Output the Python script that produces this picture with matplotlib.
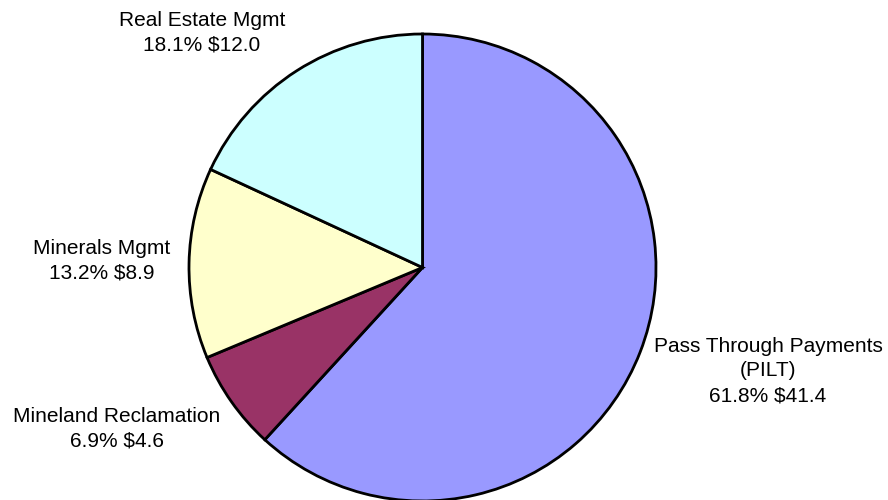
import matplotlib.pyplot as plt

# slice data, clockwise from 12 o'clock
categories = ["Pass Through Payments\n(PILT)", "Mineland Reclamation",
              "Minerals Mgmt", "Real Estate Mgmt"]
percents = [61.8, 6.9, 13.2, 18.1]
dollars = [41.4, 4.6, 8.9, 12.0]
colors = ["#9999FF", "#993366", "#FFFFCC", "#CCFFFF"]

# label placement in pixel coords (x, y from top)
label_pos = [(768, 371), (117, 429), (102, 261), (202, 33)]

fig = plt.figure(figsize=(8.88, 5), dpi=100)
ax = fig.add_axes([0, 0, 1, 1])

ax.pie(percents, colors=colors, startangle=90, counterclock=False,
       center=(422.5, 500 - 267.5), radius=233.5,
       wedgeprops=dict(edgecolor="black", linewidth=2))
ax.set_xlim(0, 888)
ax.set_ylim(0, 500)
ax.set_aspect("equal")
ax.axis("off")

for cat, p, d, (x, y) in zip(categories, percents, dollars, label_pos):
    ax.text(x, 500 - y, f"{cat}\n{p:.1f}% ${d:.1f}", ha="center", va="center",
            fontsize=15, family="Liberation Sans", linespacing=1.4)

fig.savefig("out.png", dpi=100)
